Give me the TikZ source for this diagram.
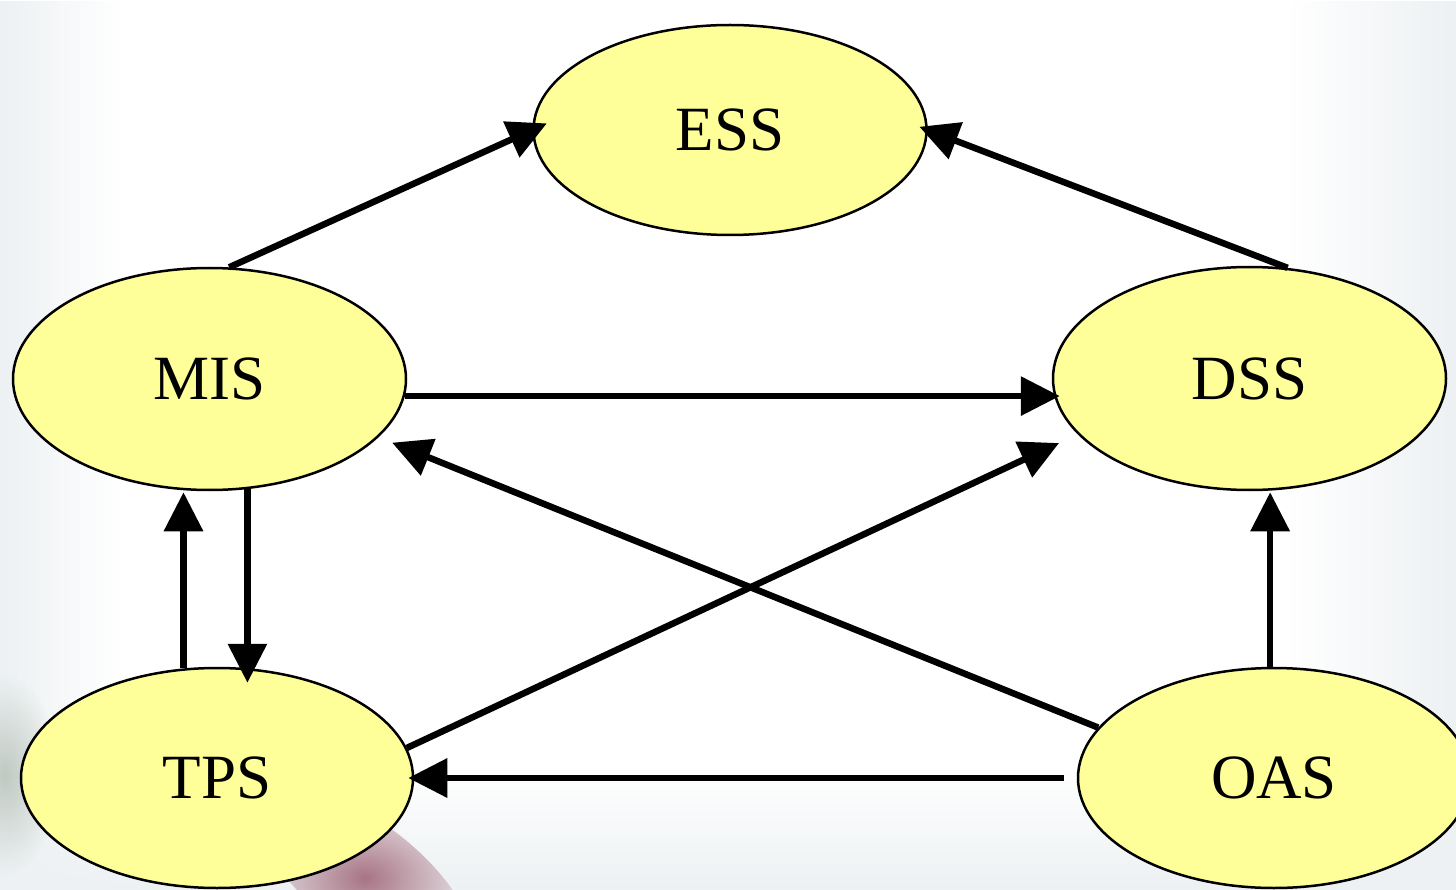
\documentclass[tikz,border=0pt]{standalone}
\usepackage{fontspec}
\setmainfont{Liberation Serif}
\usetikzlibrary{arrows.meta,shapes.geometric,fadings}

\definecolor{nodefill}{HTML}{FFFF99}
\definecolor{haze}{HTML}{EDF1F3}
\definecolor{mauve}{HTML}{A87585}
\definecolor{sage}{HTML}{B4C0B6}

\tikzfading[name=fade to right, left color=transparent!0, right color=transparent!100]
\tikzfading[name=fade to left, left color=transparent!100, right color=transparent!0]
\tikzfading[name=fade to top, top color=transparent!100, bottom color=transparent!0]
\tikzfading[name=soft blob, inner color=transparent!0, outer color=transparent!100]

\tikzset{
  sysnode/.style={ellipse, draw=black, line width=2.5pt, fill=nodefill,
    minimum width=393pt, minimum height=222pt, inner sep=0pt,
    font=\fontsize{63}{70}\selectfont},
  arr/.style={line width=6.5pt, -{Triangle[length=39pt,width=38pt]}}
}

\begin{document}
\begin{tikzpicture}[x=1pt,y=-1pt]
\useasboundingbox (0,0) rectangle (1456,890);

% backdrop
\fill[white] (0,0) rectangle (1456,890);
\fill[haze, path fading=fade to right] (0,0) rectangle (120,890);
\fill[haze, path fading=fade to left] (1290,0) rectangle (1456,890);
\fill[haze, path fading=fade to top] (0,770) rectangle (1456,890);
\fill[sage, opacity=0.8, path fading=soft blob] (5,775) ellipse [x radius=55, y radius=100];
\fill[mauve, path fading=soft blob, rotate around={-38:(365,878)}]
  (365,878) ellipse [x radius=130, y radius=55];

% systems
\node[sysnode, minimum height=210pt] (ESS) at (730,130) {ESS};
\node[sysnode] (MIS) at (209.5,379) {MIS};
\node[sysnode, minimum height=223pt] (DSS) at (1249.5,378.5) {DSS};
\node[sysnode, minimum width=392pt, minimum height=220pt] (TPS) at (217,778) {TPS};
\node[sysnode, minimum width=392pt, minimum height=220pt] (OAS) at (1274,778) {OAS};

% information flows
\draw[arr, shorten >=-16pt] (MIS.80.5) -- (ESS.west);
\draw[arr, shorten >=-9pt] (DSS.71) -- (ESS.east);
\draw[arr, shorten >=-8pt] (MIS.-5.5) -- (MIS.-5.5 -| DSS.west);
\draw[arr, shorten >=14.6pt] (OAS.164.8) -- (MIS.-19.3);
\draw[arr, shorten >=20.6pt] (TPS.9.2) -- (DSS.198.7);
\draw[arr, shorten >=1pt] (TPS.107.9) -- (TPS.107.9 |- MIS.south);
\draw[arr, shorten >=-16pt] (MIS.-71.5) -- (MIS.-71.5 |- TPS.north);
\draw[arr, shorten >=1pt] (OAS.92.1) -- (OAS.92.1 |- DSS.south);
\draw[arr, shorten <=13pt, shorten >=-6pt] (OAS.180.5) -- (OAS.180.5 -| TPS.east);
\end{tikzpicture}
\end{document}
